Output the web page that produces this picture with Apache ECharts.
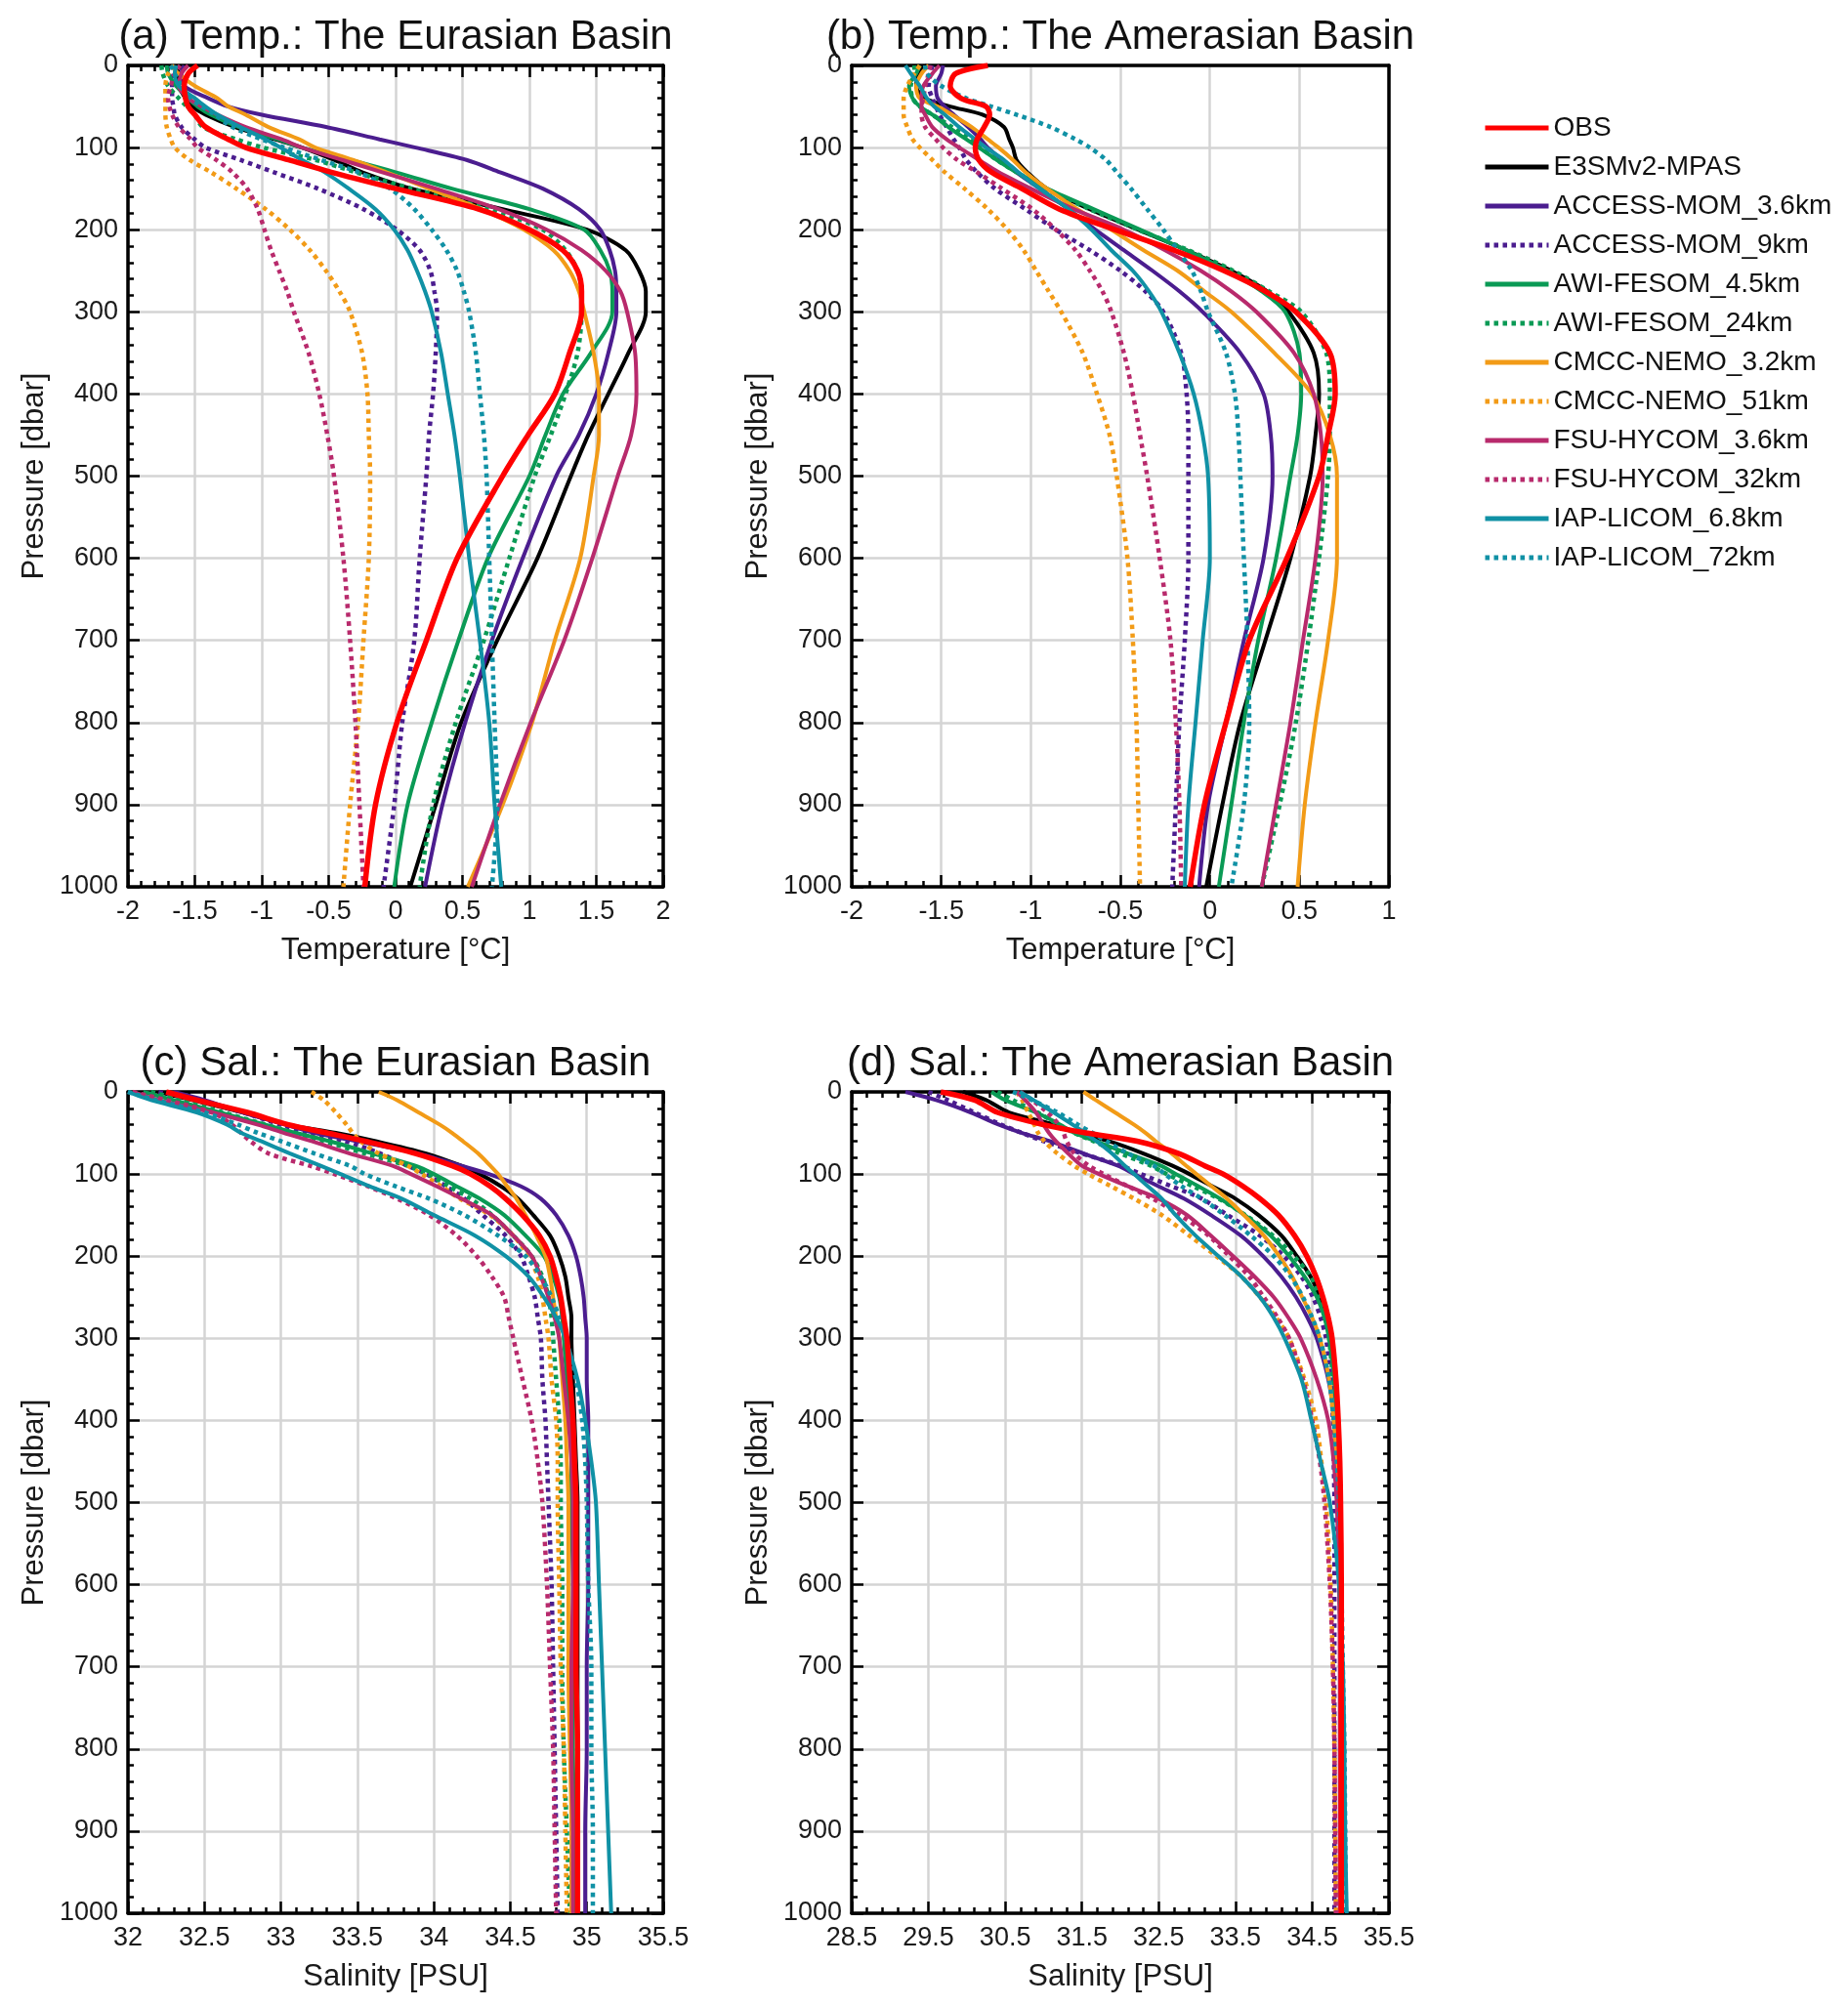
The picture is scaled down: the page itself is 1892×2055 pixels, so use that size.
<!DOCTYPE html>
<html>
<head>
<meta charset="utf-8">
<title>Arctic profiles</title>
<script src="https://cdn.jsdelivr.net/npm/echarts@6/dist/echarts.min.js"></script>
<style>
html, body { margin: 0; padding: 0; background: #fff; }
#main { width: 1892px; height: 2055px; }
</style>
</head>
<body>
<div id="main"></div>
<script>
var FONT = 'Liberation Sans, Arial, Helvetica, sans-serif';

// model names, in legend order
var MODELS = ['OBS', 'E3SMv2-MPAS', 'ACCESS-MOM_3.6km', 'ACCESS-MOM_9km', 'AWI-FESOM_4.5km', 'AWI-FESOM_24km',
    'CMCC-NEMO_3.2km', 'CMCC-NEMO_51km', 'FSU-HYCOM_3.6km', 'FSU-HYCOM_32km', 'IAP-LICOM_6.8km', 'IAP-LICOM_72km'];
var COLORS = ['#ff0000', '#000000', '#4b1d8f', '#4b1d8f', '#0a9a55', '#0a9a55',
    '#f29b17', '#f29b17', '#b82a6c', '#b82a6c', '#1091a5', '#1091a5'];
var DOTTED = [false, false, false, true, false, true, false, true, false, true, false, true];

// pressure levels [dbar]
var DEPTH = [0, 10, 25, 40, 50, 60, 75, 90, 100, 115, 130, 150, 175, 200, 225, 250, 275, 300, 350, 400, 450, 500, 600, 700, 800, 900, 1000];

// (a) temperature, Eurasian Basin (rows follow MODELS)
var TEMP_EURASIAN = [
    [-1.48, -1.55, -1.58, -1.57, -1.55, -1.5, -1.42, -1.25, -1.12, -0.8, -0.48, 0.0, 0.62, 1.0, 1.25, 1.36, 1.39, 1.39, 1.3, 1.19, 0.99, 0.8, 0.46, 0.23, 0.01, -0.15, -0.23],
    [-1.61, -1.63, -1.62, -1.57, -1.52, -1.42, -1.2, -0.9, -0.7, -0.46, -0.25, 0.12, 0.8, 1.43, 1.72, 1.82, 1.87, 1.87, 1.74, 1.59, 1.44, 1.31, 1.06, 0.76, 0.49, 0.3, 0.11],
    [-1.58, -1.6, -1.58, -1.4, -1.25, -1.0, -0.52, -0.12, 0.15, 0.53, 0.78, 1.1, 1.37, 1.53, 1.6, 1.64, 1.65, 1.65, 1.59, 1.5, 1.37, 1.2, 0.95, 0.72, 0.52, 0.35, 0.22],
    [-1.65, -1.66, -1.67, -1.67, -1.66, -1.65, -1.6, -1.5, -1.42, -1.16, -0.91, -0.58, -0.24, 0.01, 0.18, 0.26, 0.29, 0.31, 0.3, 0.28, 0.25, 0.23, 0.18, 0.14, 0.05, -0.01, -0.09],
    [-1.71, -1.7, -1.64, -1.55, -1.48, -1.38, -1.17, -0.88, -0.7, -0.34, 0.0, 0.42, 1.0, 1.41, 1.53, 1.6, 1.62, 1.62, 1.46, 1.25, 1.12, 1.0, 0.69, 0.47, 0.27, 0.09, -0.01],
    [-1.75, -1.74, -1.7, -1.62, -1.56, -1.5, -1.44, -1.19, -0.99, -0.6, -0.3, 0.12, 0.7, 1.1, 1.27, 1.36, 1.39, 1.39, 1.36, 1.27, 1.16, 1.04, 0.85, 0.66, 0.45, 0.28, 0.18],
    [-1.68, -1.62, -1.5, -1.33, -1.25, -1.12, -0.95, -0.72, -0.6, -0.32, -0.07, 0.25, 0.64, 0.96, 1.18, 1.3, 1.37, 1.41, 1.48, 1.52, 1.52, 1.48, 1.38, 1.19, 1.02, 0.8, 0.54],
    [-1.65, -1.7, -1.72, -1.72, -1.72, -1.72, -1.71, -1.68, -1.65, -1.54, -1.38, -1.19, -0.97, -0.79, -0.64, -0.52, -0.42, -0.34, -0.25, -0.21, -0.2, -0.19, -0.2, -0.24, -0.28, -0.34, -0.39],
    [-1.55, -1.6, -1.62, -1.55, -1.45, -1.33, -1.12, -0.85, -0.7, -0.4, -0.1, 0.3, 0.77, 1.13, 1.39, 1.57, 1.68, 1.73, 1.79, 1.8, 1.76, 1.66, 1.47, 1.26, 1.01, 0.78, 0.57],
    [-1.61, -1.65, -1.68, -1.7, -1.69, -1.67, -1.62, -1.53, -1.48, -1.34, -1.22, -1.11, -1.03, -0.98, -0.93, -0.87, -0.81, -0.76, -0.65, -0.57, -0.51, -0.46, -0.39, -0.34, -0.3, -0.27, -0.24],
    [-1.64, -1.65, -1.62, -1.5, -1.42, -1.33, -1.16, -0.97, -0.86, -0.7, -0.53, -0.35, -0.15, -0.01, 0.09, 0.16, 0.22, 0.27, 0.34, 0.39, 0.44, 0.48, 0.55, 0.63, 0.7, 0.74, 0.79],
    [-1.68, -1.65, -1.6, -1.53, -1.45, -1.35, -1.22, -1.0, -0.83, -0.56, -0.28, -0.04, 0.14, 0.27, 0.38, 0.46, 0.51, 0.55, 0.6, 0.63, 0.66, 0.68, 0.7, 0.72, 0.74, 0.76, 0.72]
];

// (b) temperature, Amerasian Basin
var TEMP_AMERASIAN = [
    [-1.24, -1.42, -1.45, -1.39, -1.25, -1.23, -1.26, -1.3, -1.31, -1.29, -1.22, -1.05, -0.84, -0.53, -0.2, 0.08, 0.31, 0.48, 0.67, 0.7, 0.66, 0.61, 0.43, 0.22, 0.09, -0.03, -0.11],
    [-1.58, -1.63, -1.64, -1.59, -1.45, -1.27, -1.15, -1.12, -1.1, -1.08, -1.02, -0.91, -0.67, -0.4, -0.13, 0.12, 0.32, 0.44, 0.58, 0.61, 0.59, 0.56, 0.45, 0.31, 0.17, 0.07, -0.02],
    [-1.49, -1.5, -1.53, -1.52, -1.48, -1.43, -1.35, -1.28, -1.24, -1.16, -1.08, -0.95, -0.79, -0.64, -0.48, -0.32, -0.17, -0.04, 0.17, 0.3, 0.34, 0.35, 0.3, 0.19, 0.09, -0.01, -0.06],
    [-1.55, -1.56, -1.57, -1.55, -1.53, -1.51, -1.47, -1.43, -1.4, -1.36, -1.3, -1.2, -1.03, -0.86, -0.67, -0.5, -0.36, -0.26, -0.16, -0.13, -0.12, -0.12, -0.12, -0.14, -0.17, -0.19, -0.21],
    [-1.62, -1.64, -1.68, -1.66, -1.62, -1.55, -1.46, -1.36, -1.29, -1.19, -1.08, -0.91, -0.65, -0.39, -0.13, 0.1, 0.29, 0.42, 0.5, 0.51, 0.49, 0.45, 0.37, 0.27, 0.19, 0.12, 0.05],
    [-1.65, -1.65, -1.67, -1.66, -1.62, -1.55, -1.44, -1.34, -1.28, -1.19, -1.08, -0.92, -0.67, -0.4, -0.12, 0.13, 0.33, 0.51, 0.65, 0.67, 0.67, 0.66, 0.61, 0.55, 0.48, 0.39, 0.29],
    [-1.57, -1.61, -1.64, -1.62, -1.52, -1.44, -1.33, -1.24, -1.18, -1.1, -1.03, -0.91, -0.74, -0.55, -0.37, -0.18, -0.03, 0.12, 0.36, 0.57, 0.67, 0.71, 0.71, 0.66, 0.59, 0.53, 0.49],
    [-1.62, -1.65, -1.69, -1.71, -1.71, -1.71, -1.69, -1.66, -1.62, -1.55, -1.48, -1.37, -1.24, -1.13, -1.04, -0.97, -0.9, -0.83, -0.71, -0.63, -0.56, -0.52, -0.46, -0.43, -0.41, -0.4, -0.39],
    [-1.51, -1.55, -1.6, -1.61, -1.61, -1.59, -1.55, -1.47, -1.4, -1.29, -1.18, -1.0, -0.76, -0.48, -0.25, -0.05, 0.12, 0.26, 0.47, 0.58, 0.62, 0.63, 0.59, 0.52, 0.45, 0.37, 0.29],
    [-1.56, -1.57, -1.59, -1.6, -1.61, -1.61, -1.59, -1.53, -1.49, -1.41, -1.3, -1.16, -0.99, -0.86, -0.75, -0.67, -0.6, -0.55, -0.48, -0.43, -0.39, -0.35, -0.28, -0.22, -0.19, -0.17, -0.16],
    [-1.7, -1.67, -1.62, -1.58, -1.54, -1.48, -1.4, -1.31, -1.25, -1.15, -1.07, -0.95, -0.79, -0.66, -0.55, -0.43, -0.34, -0.27, -0.17, -0.09, -0.04, -0.01, 0.0, -0.04, -0.08, -0.12, -0.14],
    [-1.59, -1.58, -1.5, -1.36, -1.22, -1.08, -0.89, -0.75, -0.67, -0.58, -0.52, -0.44, -0.35, -0.26, -0.18, -0.1, -0.05, -0.01, 0.09, 0.14, 0.16, 0.17, 0.19, 0.21, 0.22, 0.19, 0.12]
];

// (c) salinity, Eurasian Basin
var SAL_EURASIAN = [
    [32.25, 32.45, 32.78, 33.05, 33.3, 33.55, 33.88, 34.12, 34.24, 34.37, 34.47, 34.58, 34.69, 34.76, 34.8, 34.83, 34.85, 34.87, 34.89, 34.91, 34.92, 34.93, 34.93, 34.93, 34.94, 34.94, 34.94],
    [32.2, 32.42, 32.75, 33.05, 33.36, 33.62, 33.95, 34.18, 34.3, 34.44, 34.55, 34.65, 34.76, 34.82, 34.86, 34.88, 34.9, 34.9, 34.91, 34.92, 34.93, 34.94, 34.94, 34.94, 34.94, 34.94, 34.94],
    [32.3, 32.5, 32.75, 33.03, 33.22, 33.5, 33.9, 34.18, 34.36, 34.57, 34.7, 34.8, 34.88, 34.93, 34.96, 34.98, 34.99, 35.0, 35.0, 35.01, 35.01, 35.01, 35.01, 35.0, 35.0, 34.99, 34.99],
    [32.2, 32.45, 32.75, 33.0, 33.18, 33.42, 33.65, 33.83, 33.95, 34.08, 34.2, 34.32, 34.47, 34.57, 34.62, 34.66, 34.68, 34.7, 34.71, 34.73, 34.74, 34.75, 34.77, 34.78, 34.79, 34.8, 34.81],
    [32.1, 32.3, 32.6, 32.9, 33.1, 33.32, 33.6, 33.88, 34.0, 34.15, 34.3, 34.46, 34.6, 34.72, 34.78, 34.82, 34.84, 34.85, 34.87, 34.89, 34.9, 34.9, 34.91, 34.91, 34.91, 34.92, 34.92],
    [32.15, 32.35, 32.62, 32.9, 33.08, 33.28, 33.55, 33.83, 33.96, 34.1, 34.24, 34.38, 34.52, 34.64, 34.71, 34.75, 34.77, 34.78, 34.8, 34.82, 34.83, 34.83, 34.84, 34.84, 34.85, 34.87, 34.89],
    [33.64, 33.76, 33.9, 34.04, 34.12, 34.19, 34.29, 34.37, 34.42, 34.48, 34.54, 34.6, 34.67, 34.73, 34.76, 34.78, 34.8, 34.82, 34.84, 34.86, 34.87, 34.88, 34.88, 34.88, 34.89, 34.9, 34.9],
    [33.2, 33.28, 33.36, 33.43, 33.47, 33.52, 33.64, 33.83, 33.92, 34.05, 34.17, 34.37, 34.52, 34.62, 34.68, 34.71, 34.73, 34.75, 34.77, 34.8, 34.81, 34.81, 34.82, 34.83, 34.85, 34.86, 34.87],
    [32.03, 32.2, 32.55, 32.85, 33.02, 33.2, 33.45, 33.73, 33.85, 34.02, 34.18, 34.38, 34.52, 34.64, 34.7, 34.75, 34.79, 34.82, 34.85, 34.88, 34.9, 34.91, 34.91, 34.9, 34.9, 34.91, 34.91],
    [32.03, 32.25, 32.55, 32.68, 32.74, 32.8, 32.92, 33.19, 33.35, 33.57, 33.76, 33.97, 34.15, 34.28, 34.38, 34.46, 34.49, 34.52, 34.58, 34.64, 34.68, 34.71, 34.74, 34.76, 34.78, 34.79, 34.8],
    [32.0, 32.15, 32.45, 32.65, 32.74, 32.87, 33.06, 33.26, 33.39, 33.58, 33.79, 34.0, 34.27, 34.47, 34.62, 34.72, 34.8, 34.86, 34.94, 34.99, 35.03, 35.06, 35.08, 35.1, 35.12, 35.14, 35.16],
    [32.0, 32.18, 32.5, 32.72, 32.85, 33.0, 33.22, 33.45, 33.55, 33.75, 33.97, 34.2, 34.42, 34.6, 34.7, 34.77, 34.82, 34.86, 34.93, 34.97, 34.99, 35.0, 35.01, 35.03, 35.03, 35.04, 35.04]
];

// (d) salinity, Amerasian Basin
var SAL_AMERASIAN = [
    [29.66, 30.1, 30.4, 31.0, 31.55, 32.22, 32.76, 33.1, 33.34, 33.6, 33.82, 34.06, 34.27, 34.43, 34.55, 34.64, 34.71, 34.76, 34.81, 34.84, 34.86, 34.87, 34.88, 34.88, 34.88, 34.88, 34.88],
    [29.95, 30.25, 30.55, 31.15, 31.45, 31.85, 32.3, 32.68, 32.9, 33.2, 33.5, 33.8, 34.1, 34.3, 34.48, 34.6, 34.68, 34.74, 34.79, 34.82, 34.84, 34.86, 34.87, 34.88, 34.88, 34.88, 34.88],
    [29.2, 29.6, 30.05, 30.42, 30.72, 31.08, 31.52, 31.97, 32.18, 32.5, 32.83, 33.18, 33.57, 33.86, 34.1, 34.29, 34.44, 34.56, 34.71, 34.79, 34.83, 34.85, 34.87, 34.88, 34.88, 34.88, 34.88],
    [29.5, 29.75, 30.1, 30.45, 30.72, 31.0, 31.5, 32.01, 32.27, 32.67, 33.06, 33.4, 33.82, 34.13, 34.36, 34.51, 34.61, 34.68, 34.74, 34.77, 34.78, 34.79, 34.79, 34.79, 34.79, 34.79, 34.79],
    [30.32, 30.5, 30.9, 31.22, 31.4, 31.68, 32.1, 32.53, 32.72, 33.02, 33.3, 33.62, 33.96, 34.2, 34.4, 34.56, 34.66, 34.72, 34.79, 34.82, 34.85, 34.87, 34.88, 34.88, 34.89, 34.89, 34.89],
    [30.4, 30.6, 30.92, 31.2, 31.4, 31.65, 32.0, 32.4, 32.6, 32.95, 33.28, 33.63, 33.99, 34.26, 34.48, 34.6, 34.68, 34.72, 34.77, 34.8, 34.82, 34.84, 34.86, 34.87, 34.88, 34.88, 34.88],
    [31.52, 31.68, 31.93, 32.18, 32.33, 32.46, 32.67, 32.86, 32.99, 33.19, 33.39, 33.61, 33.87, 34.07, 34.24, 34.37, 34.5, 34.6, 34.72, 34.78, 34.82, 34.84, 34.86, 34.87, 34.87, 34.87, 34.87],
    [30.65, 30.72, 30.8, 30.88, 30.93, 31.01, 31.18, 31.4, 31.58, 31.88, 32.18, 32.54, 32.9, 33.25, 33.58, 33.82, 34.03, 34.2, 34.4, 34.55, 34.62, 34.68, 34.74, 34.77, 34.79, 34.8, 34.81],
    [30.65, 30.76, 30.9, 31.0, 31.07, 31.16, 31.32, 31.5, 31.72, 32.1, 32.5, 32.87, 33.18, 33.47, 33.75, 34.0, 34.19, 34.35, 34.56, 34.71, 34.78, 34.82, 34.85, 34.86, 34.86, 34.86, 34.86],
    [30.7, 30.85, 31.05, 31.2, 31.26, 31.3, 31.4, 31.59, 31.78, 32.1, 32.42, 32.78, 33.15, 33.42, 33.68, 33.87, 34.05, 34.2, 34.38, 34.5, 34.6, 34.66, 34.73, 34.77, 34.79, 34.8, 34.81],
    [30.69, 30.87, 31.13, 31.38, 31.54, 31.69, 31.89, 32.06, 32.18, 32.36, 32.54, 32.72, 32.98, 33.28, 33.58, 33.82, 34.0, 34.14, 34.36, 34.49, 34.61, 34.73, 34.85, 34.9, 34.92, 34.93, 34.95],
    [30.6, 30.85, 31.18, 31.45, 31.64, 31.82, 32.1, 32.44, 32.58, 32.8, 33.06, 33.36, 33.7, 34.0, 34.22, 34.38, 34.5, 34.6, 34.72, 34.78, 34.82, 34.85, 34.88, 34.9, 34.92, 34.93, 34.94]
];

var PANELS = [
    {title: '(a) Temp.: The Eurasian Basin', left: 131, top: 67, width: 548, min: -2, max: 2, step: 0.5, xname: 'Temperature [°C]', rows: TEMP_EURASIAN, box: true},
    {title: '(b) Temp.: The Amerasian Basin', left: 872, top: 67, width: 550, min: -2, max: 1, step: 0.5, xname: 'Temperature [°C]', rows: TEMP_AMERASIAN, box: false},
    {title: '(c) Sal.: The Eurasian Basin', left: 131, top: 1118, width: 548, min: 32, max: 35.5, step: 0.5, xname: 'Salinity [PSU]', rows: SAL_EURASIAN, box: true},
    {title: '(d) Sal.: The Amerasian Basin', left: 872, top: 1118, width: 550, min: 28.5, max: 35.5, step: 1, xname: 'Salinity [PSU]', rows: SAL_AMERASIAN, box: true}
];
var PLOT_H = 841;

var chart = echarts.init(document.getElementById('main'), null, {renderer: 'canvas'});

function axisCommon(show_ticks) {
    return {
        axisLine: {show: true, onZero: false, lineStyle: {color: '#000', width: 3.5}},
        axisTick: {show: show_ticks, inside: true, length: 12, lineStyle: {color: '#000', width: 2.5}},
        minorTick: {show: show_ticks, splitNumber: 5, length: 6, lineStyle: {color: '#000', width: 2.5}}
    };
}

function plainLabel(v) { return String(v); }

var grids = [], xAxes = [], yAxes = [], series = [], graphics = [];

PANELS.forEach(function (p, i) {
    grids.push({left: p.left, top: p.top, width: p.width, height: PLOT_H, containLabel: false});

    xAxes.push(Object.assign({
        type: 'value', gridIndex: i, position: 'bottom', min: p.min, max: p.max, interval: p.step,
        splitLine: {show: true, lineStyle: {color: '#d4d4d4', width: 2.5}},
        axisLabel: {fontSize: 27, color: '#1a1a1a', margin: 12, fontFamily: FONT, formatter: plainLabel},
        name: p.xname, nameLocation: 'middle', nameGap: 50,
        nameTextStyle: {fontSize: 31, color: '#1a1a1a', fontFamily: FONT}
    }, axisCommon(true)));
    xAxes.push(Object.assign({
        type: 'value', gridIndex: i, position: 'top', min: p.min, max: p.max, interval: p.step,
        splitLine: {show: false}, axisLabel: {show: false}
    }, axisCommon(p.box)));

    yAxes.push(Object.assign({
        type: 'value', gridIndex: i, position: 'left', inverse: true, min: 0, max: 1000, interval: 100,
        splitLine: {show: true, lineStyle: {color: '#d4d4d4', width: 2.5}},
        axisLabel: {fontSize: 27, color: '#1a1a1a', margin: 10, fontFamily: FONT, formatter: plainLabel},
        name: 'Pressure [dbar]', nameLocation: 'middle', nameGap: 80, nameRotate: 90,
        nameTextStyle: {fontSize: 31, color: '#1a1a1a', fontFamily: FONT}
    }, axisCommon(true)));
    yAxes.push(Object.assign({
        type: 'value', gridIndex: i, position: 'right', inverse: true, min: 0, max: 1000, interval: 100,
        splitLine: {show: false}, axisLabel: {show: false}
    }, axisCommon(p.box)));

    graphics.push({
        type: 'text', x: p.left + p.width / 2, y: p.top - 29,
        style: {text: p.title, fontSize: 42, fontFamily: FONT, fill: '#111', align: 'center', verticalAlign: 'middle'}
    });

    MODELS.forEach(function (name, k) {
        var vals = p.rows[k];
        series.push({
            type: 'line', name: name, xAxisIndex: 2 * i, yAxisIndex: 2 * i,
            data: DEPTH.map(function (d, j) { return [vals[j], d]; }),
            symbol: 'none', smooth: 0.3,
            lineStyle: {
                color: COLORS[k], width: k === 0 ? 5.5 : (DOTTED[k] ? 4.5 : 4),
                type: DOTTED[k] ? [4.5, 4.5] : 'solid', cap: 'butt'
            },
            itemStyle: {color: COLORS[k]},
            emphasis: {disabled: true},
            z: k === 0 ? 3 : 2
        });
    });
});

chart.setOption({
    animation: false,
    backgroundColor: '#fff',
    textStyle: {fontFamily: FONT},
    grid: grids,
    xAxis: xAxes,
    yAxis: yAxes,
    legend: {
        orient: 'vertical', left: 1518, top: 117, padding: 0,
        itemWidth: 65, itemHeight: 14, itemGap: 12,
        itemStyle: {opacity: 0},
        lineStyle: {width: 5, type: 'inherit', color: 'inherit', cap: 'butt'},
        textStyle: {fontSize: 28, color: '#111', fontFamily: FONT},
        data: MODELS
    },
    graphic: graphics,
    series: series
});
</script>
</body>
</html>
